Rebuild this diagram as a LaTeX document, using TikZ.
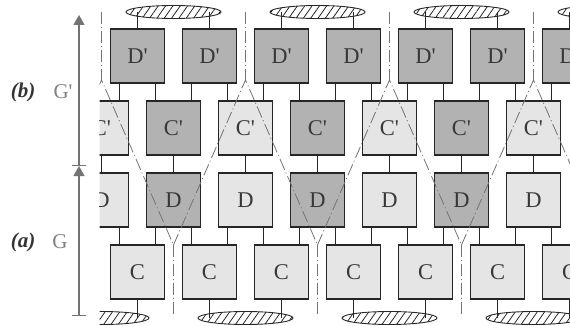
\documentclass[tikz,border=0pt]{standalone}
\usepackage{fontspec}
\setmainfont{Liberation Serif}
\usetikzlibrary{arrows.meta, patterns.meta, shapes.geometric}
\tikzset{box/.style={draw=black!85, line width=1.1pt, minimum size=54pt, inner sep=0pt,
    font=\fontsize{22.5}{26}\selectfont, text=black!78},
    dark box/.style={box, fill=black!30},
    light box/.style={box, fill=black!10},
    leg/.style={draw=black!85, line width=1.1pt},
    env/.style={ellipse, draw=black!85, line width=0.9pt, minimum width=95pt,
    minimum height=13pt, inner sep=0pt, pattern color=black!85,
    pattern={Lines[angle=55,distance=6pt,line width=0.8pt]}},
    cone/.style={draw=black!55, line width=0.8pt, dash pattern=on 12pt off 3pt on 1pt off 3pt},
    span/.style={draw=black!55, line width=1.2pt, {Bar[width=14pt]}-{Triangle[length=10pt,width=11pt]}},
    tag/.style={font=\fontsize{21}{25}\selectfont\bfseries\itshape, text=black!80},
    layer/.style={font=\fontsize{21}{25}\selectfont, text=black!50}}

\begin{document}
\begin{tikzpicture}[x=1pt, y=-1pt]
\useasboundingbox (0,0) rectangle (570,326);

% Labels and height arrows on the left
\node[tag] (tb) at (23,92.5) {(b)};
\node[layer] (lb) at (63,92) {G\textquotesingle};
\node[tag] (ta) at (23,242.5) {(a)};
\node[layer] (la) at (60,242) {G};
\coordinate (top) at (79,15);
\coordinate (mid) at (79,166);
\coordinate (bot) at (79,316);
\draw[span] (mid) -- (top);
\draw[span] (bot) -- (mid);

\begin{scope}
\clip (99.5,0) rectangle (570,326);

% Four rows of boxes
\foreach \k in {0,...,8} {
  \pgfmathsetmacro\xa{65.5+72*\k}
  \pgfmathsetmacro\xb{29.5+72*\k}
  \ifodd\k \def\tone{light box}\else \def\tone{dark box}\fi
  \node[dark box] (dp\k) at (\xa,56) {D\textquotesingle};
  \node[\tone] (cp\k) at (\xb,128) {C\textquotesingle};
  \node[\tone] (d\k) at (\xb,200) {D};
  \node[light box] (c\k) at (\xa,272) {C};
}

% Legs between the rows
\foreach \k in {0,...,8} {
  \draw[leg] ([xshift=-18pt]dp\k.south) -- ([xshift=-18pt]dp\k.south |- cp\k.north);
  \draw[leg] ([xshift=18pt]dp\k.south) -- ([xshift=18pt]dp\k.south |- cp\k.north);
  \draw[leg] (cp\k.south) -- (d\k.north);
  \draw[leg] ([xshift=-18pt]d\k.south) -- ([xshift=-18pt]d\k.south |- c\k.north);
  \draw[leg] ([xshift=18pt]d\k.south) -- ([xshift=18pt]d\k.south |- c\k.north);
}

% Hatched ellipses on top and bottom
\foreach \k/\n in {1/2,3/4,5/6,7/8} {
  \node[env] (up\k) at (101.5+72*\k,12) {};
  \draw[leg] (dp\k.north) -- (dp\k.north |- up\k.center);
  \draw[leg] (dp\n.north) -- (dp\n.north |- up\k.center);
}
\foreach \k/\n in {0/1,2/3,4/5,6/7} {
  \node[env] (dn\k) at (101.5+72*\k,318) {};
  \draw[leg] (c\k.south) -- (c\k.south |- dn\k.center);
  \draw[leg] (c\n.south) -- (c\n.south |- dn\k.center);
}

% Dash-dotted cones
\foreach \x in {101.5,245.5,389.5,533.5} {
  \coordinate (apex) at (\x,80);
  \draw[cone] (\x,12) -- (apex);
  \draw[cone] (\x-72,245) -- (apex) -- (\x+72,245);
}
\foreach \x in {173.5,317.5,461.5} {
  \coordinate (foot) at (\x,245);
  \draw[cone] (foot) -- (\x,316);
}
\end{scope}
\end{tikzpicture}
\end{document}
